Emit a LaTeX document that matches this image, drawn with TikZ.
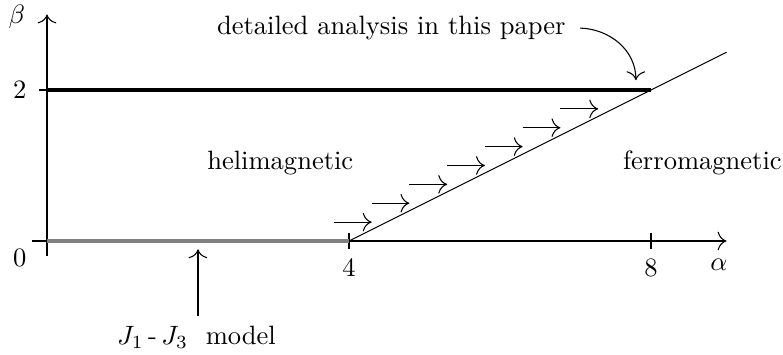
\documentclass[tikz,border=0pt]{standalone}
\usetikzlibrary{arrows.meta}
\begin{document}
\begin{tikzpicture}[x=1cm,y=1cm,
  >={To[scale=1.35]},
  axis/.style={->},
  tick/.style={},
  flow/.style={->},
  lbl/.style={inner sep=1pt}]
\useasboundingbox (-0.6225,-1.51) rectangle (9.748,3.192);
% coordinates
\coordinate (O) at (0,0);
\coordinate (xs) at (-0.2,0);
\coordinate (xe) at (9,0);
\coordinate (ys) at (0,-0.2);
\coordinate (ye) at (0,3);
\coordinate (a4) at (4,0);
\coordinate (a8) at (8,2);
\coordinate (b2) at (0,2);
\coordinate (dend) at (9,2.5);
% axes
\draw[axis] (xs) -- (xe);
\draw[axis] (ys) -- (ye);
% ticks
\draw[tick] (-0.1,2) -- (0.1,2);
\draw[tick] (4,-0.1) -- (4,0.1);
\draw[tick] (8,-0.1) -- (8,0.1);
% tick labels
\node[lbl] (l0) at (-0.36,-0.23) {$0$};
\node[lbl] (l2) at (-0.36,2) {$2$};
\node[lbl] (l4) at (4,-0.36) {$4$};
\node[lbl] (l8) at (8,-0.36) {$8$};
\node[lbl] (alpha) at (8.9,-0.32) {$\alpha$};
\node[lbl] (beta) at (-0.4,2.97) {$\beta$};
% phase lines
\draw[line width=1.6pt] (b2) -- (a8);
\draw[line width=1.2pt, gray] (O) -- (a4);
\draw (a4) -- (dend);
% arrows
\foreach \k in {0,...,6} {
  \draw[flow] (3.8+0.5*\k, 0.25+0.25*\k) -- (4.3+0.5*\k, 0.25+0.25*\k);
}
% region labels
\node (heli) at (3.09,1.03) {helimagnetic};
\node (ferro) at (8.68,1.03) {ferromagnetic};
% annotation
\node (det) at (4.56,2.82) {detailed analysis in this paper};
\coordinate (dtip) at (7.8,2.13);
\draw[->] ([xshift=2pt]det.east) to[out=-2,in=90] (dtip);
\node (jmod) at (1.98,-1.27) {$J_1$\,-\,$J_3$\ \ model};
\coordinate (jtip) at (2,-0.11);
\draw[->] (2,-1.0) -- (jtip);
\end{tikzpicture}
\end{document}
